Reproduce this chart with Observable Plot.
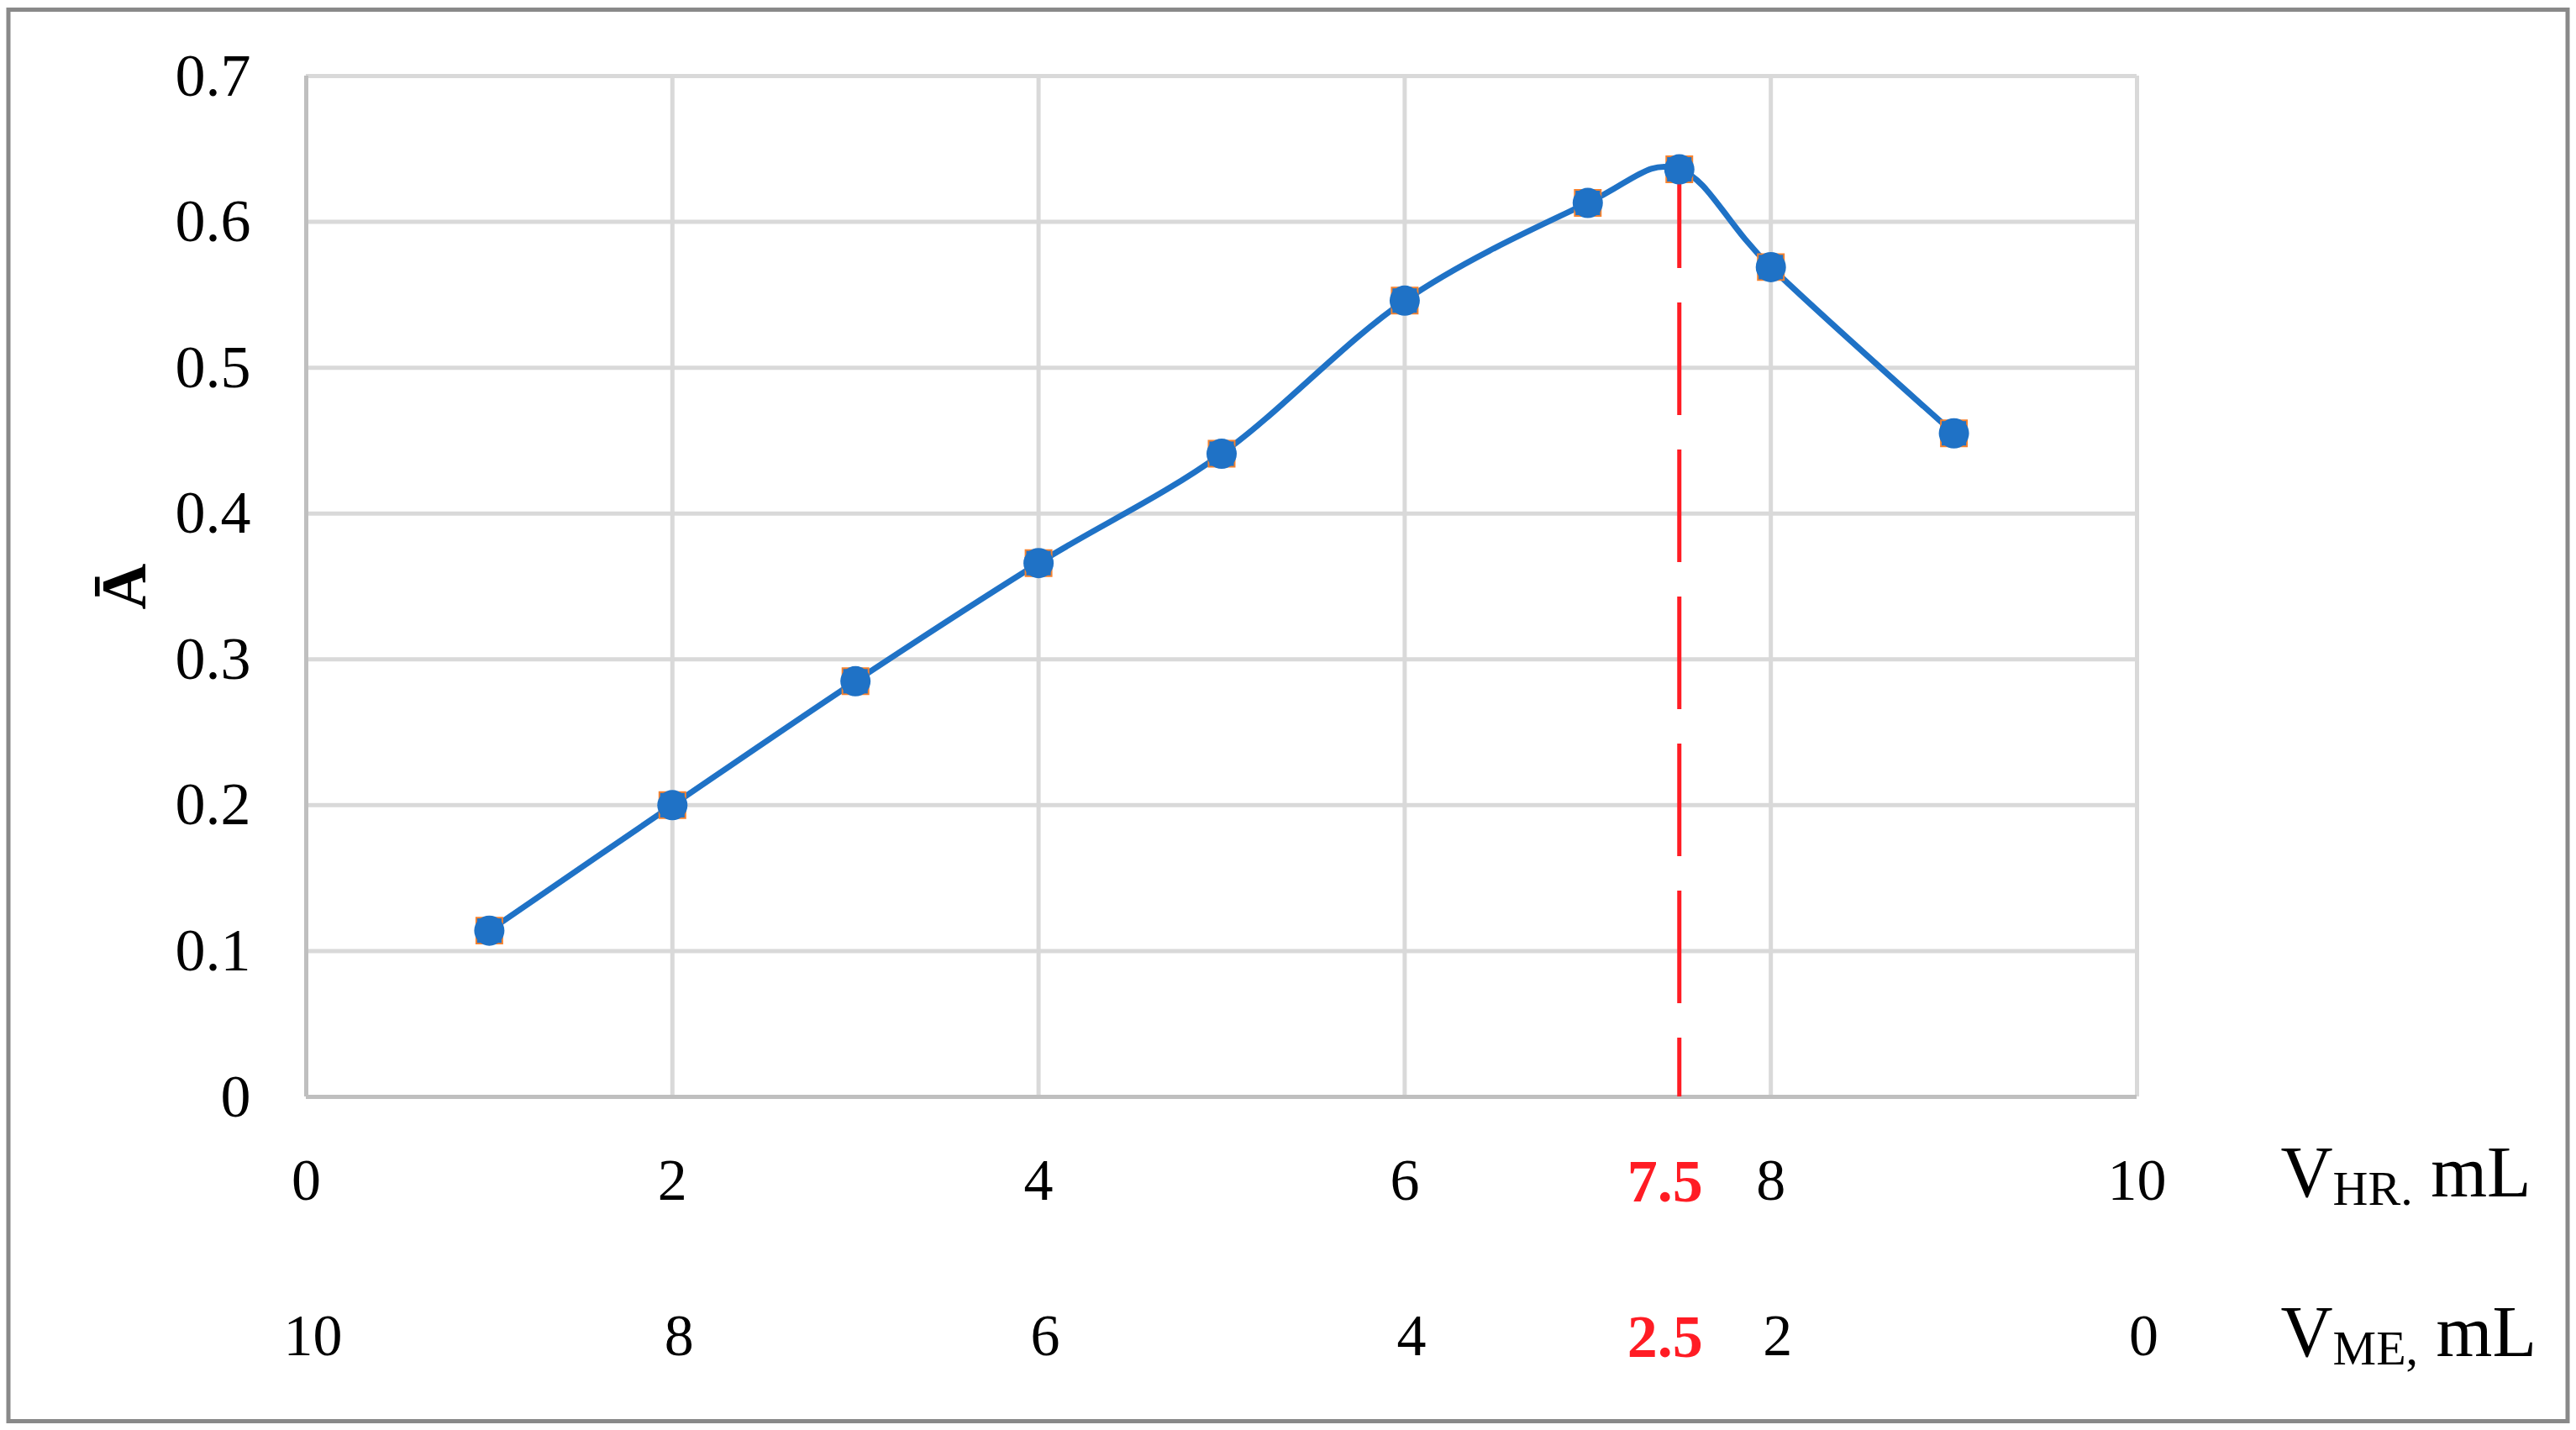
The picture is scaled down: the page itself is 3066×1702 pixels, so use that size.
<!DOCTYPE html>
<html>
<head>
<meta charset="utf-8">
<script src="https://cdn.jsdelivr.net/npm/d3@7"></script>
<script src="https://cdn.jsdelivr.net/npm/@observablehq/plot@0.6"></script>
<style>
  html, body { margin: 0; padding: 0; background: #ffffff; }
  #chart { width: 3066px; height: 1702px; }
  #chart text { white-space: pre; }
</style>
</head>
<body>
<div id="chart"></div>
<script>
// ---- data ----
const vHR = [1, 2, 3, 4, 5, 6, 7, 7.5, 8, 9];
const absorbance = [0.114, 0.200, 0.285, 0.366, 0.441, 0.546, 0.613, 0.636, 0.569, 0.455];
const xTicks = [0, 2, 4, 6, 8, 10];
const xTickLabelsHR = ["0", "2", "4", "6", "8", "10"];
const xTickLabelsME = ["10", "8", "6", "4", "2", "0"];
const yTicks = [0, 0.1, 0.2, 0.3, 0.4, 0.5, 0.6, 0.7];
const yTickLabels = ["0", "0.1", "0.2", "0.3", "0.4", "0.5", "0.6", "0.7"];
const peakX = 7.5;
const peakLabels = ["7.5", "2.5"];
const axisTitles = ["VHR. mL", "VME, mL"];
const yTitle = "Ā";

const rows = vHR.map((x, i) => ({x, a: absorbance[i]}));
const peak = rows.filter(r => r.x === peakX);

const BLUE = "#1f72c6";
const ORANGE = "#f5822f";
const RED = "#ff1c24";

const plot = Plot.plot({
  width: 3066,
  height: 1702,
  marginLeft: 364,
  marginRight: 523,
  marginTop: 90,
  marginBottom: 397,
  x: {domain: [0, 10]},
  y: {domain: [0, 0.7]},
  style: {
    fontFamily: "'Liberation Serif', 'Times New Roman', serif",
    fontSize: "70px",
    color: "#000",
    background: "#fff",
    overflow: "visible"
  },
  marks: [
    Plot.ruleY(yTicks, {stroke: "#d9d9d9", strokeWidth: 5}),
    Plot.ruleX(xTicks, {stroke: "#d9d9d9", strokeWidth: 5}),
    Plot.ruleX([0], {stroke: "#bfbfbf", strokeWidth: 5}),
    Plot.ruleY([0], {stroke: "#bfbfbf", strokeWidth: 5}),
    Plot.ruleX(peak, {x: "x", y1: "a", y2: () => 0, stroke: RED, strokeWidth: 5,
      strokeDasharray: "134,41", strokeDashoffset: 16}),
    Plot.axisY({ticks: yTicks, tickSize: 0, tickPadding: 66, fontSize: 72, label: null,
      tickFormat: d => yTickLabels[yTicks.indexOf(d)]}),
    Plot.axisX({ticks: xTicks, tickSize: 0, tickPadding: 73, fontSize: 70, label: null,
      tickFormat: d => xTickLabelsHR[xTicks.indexOf(d)]}),
    Plot.axisX({ticks: xTicks, tickSize: 0, tickPadding: 258, fontSize: 70, label: null, dx: 8,
      tickFormat: d => xTickLabelsME[xTicks.indexOf(d)]}),
    Plot.text(peak, {x: "x", frameAnchor: "bottom", text: () => peakLabels[0], dy: 73, dx: -17,
      lineAnchor: "top", fill: RED, fontWeight: "bold", fontSize: 72}),
    Plot.text(peak, {x: "x", frameAnchor: "bottom", text: () => peakLabels[1], dy: 258, dx: -17,
      lineAnchor: "top", fill: RED, fontWeight: "bold", fontSize: 72}),
    Plot.text([axisTitles[0]], {frameAnchor: "bottom-right", text: d => d, dx: 171, dy: 57,
      textAnchor: "start", lineAnchor: "top", fontSize: 86}),
    Plot.text([axisTitles[1]], {frameAnchor: "bottom-right", text: d => d, dx: 171, dy: 247,
      textAnchor: "start", lineAnchor: "top", fontSize: 86}),
    Plot.text([yTitle], {frameAnchor: "left", text: d => d, dx: -216, rotate: -90,
      textAnchor: "middle", lineAnchor: "middle", fontSize: 76, fontWeight: "bold"}),
    Plot.line(rows, {x: "x", y: "a", curve: "cardinal", stroke: BLUE, strokeWidth: 7,
      strokeLinejoin: "round", strokeLinecap: "round"}),
    Plot.dot(rows, {x: "x", y: "a", symbol: "square", r: 18.6, fill: ORANGE}),
    Plot.dot(rows, {x: "x", y: "a", symbol: "square", r: 16.4, fill: BLUE}),
    Plot.dot(rows, {x: "x", y: "a", r: 18, fill: BLUE})
  ]
});

document.getElementById("chart").appendChild(plot);

// subscripts in the axis titles
const svg = d3.select(plot);
const subs = {"VHR. mL": ["V", "HR.", " mL"], "VME, mL": ["V", "ME,", " mL"]};
svg.selectAll("text").each(function() {
  const t = this.textContent;
  if (subs[t]) {
    const parts = subs[t];
    const el = d3.select(this);
    el.text(null);
    el.append("tspan").text(parts[0]);
    el.append("tspan").attr("font-size", 58).attr("dy", 10).text(parts[1]);
    el.append("tspan").attr("font-size", 86).attr("dy", -10).text(parts[2]);
  }
});

// outer border of the figure
svg.append("rect")
  .attr("x", 10).attr("y", 11.5)
  .attr("width", 3046).attr("height", 1680)
  .attr("fill", "none").attr("stroke", "#898989").attr("stroke-width", 5);
</script>
</body>
</html>
